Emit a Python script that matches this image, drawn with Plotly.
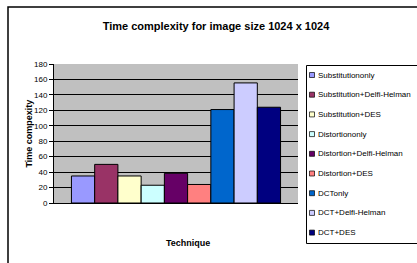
import plotly.graph_objects as go

techniques = ["Substitutiononly", "Substitution+Delfi-Helman", "Substitution+DES",
              "Distortiononly", "Distortion+Delfi-Helman", "Distortion+DES",
              "DCTonly", "DCT+Delfi-Helman", "DCT+DES"]
times = [35, 50, 35, 23, 38.5, 24, 121, 155.5, 124]
colors = ["#9999FF", "#993366", "#FFFFCC", "#CCFFFF", "#660066", "#FF8080",
          "#0066CC", "#CCCCFF", "#000080"]
category = ["Technique"]
y_ticks = list(range(0, 181, 20))

W, H = 417, 263
L, R, T, B = 54, 298, 64, 203
pw, ph = R - L, B - T

def px(x):
    return (x - L) / pw

def py(y):
    return (B - y) / ph

font = "Liberation Sans, Arial"

fig = go.Figure()
for name, v, c in zip(techniques, times, colors):
    fig.add_trace(go.Bar(x=category, y=[v], name=name, marker_color=c,
                         marker_line=dict(color="black", width=1),
                         showlegend=False))

fig.update_layout(
    width=W, height=H,
    margin=dict(l=L, r=W - R, t=T, b=H - B, autoexpand=False),
    paper_bgcolor="white", plot_bgcolor="#C0C0C0",
    barmode="group", bargap=0.143, bargroupgap=0,
    title=dict(text="<b>Time complexity for image size 1024 x 1024</b>",
               x=216 / W, xanchor="center", y=1 - 26 / H, yanchor="middle",
               font=dict(family=font, size=11, color="black")),
    showlegend=False,
    font=dict(family=font, color="black"),
)
fig.update_xaxes(showticklabels=False, showline=True, linecolor="black",
                 linewidth=1, showgrid=False, ticks="")
fig.update_yaxes(range=[0, 180], tickvals=y_ticks, ticks="outside", ticklen=4,
                 tickcolor="black", showline=True, linecolor="black", linewidth=1,
                 showgrid=True, gridcolor="black", gridwidth=1,
                 tickfont=dict(family=font, size=8, color="black"), zeroline=False)

fig.add_annotation(text="<b>Time compexity</b>", textangle=-90, xref="paper", yref="paper",
                   x=px(28), y=0.5, xanchor="center", yanchor="middle", showarrow=False,
                   font=dict(family=font, size=9, color="black"))
fig.add_annotation(text="<b>Technique</b>", xref="paper", yref="paper",
                   x=px(188), y=py(243), xanchor="center", yanchor="middle", showarrow=False,
                   font=dict(family=font, size=9, color="black"))

# chart outer border
fig.add_shape(type="rect", xref="paper", yref="paper",
              x0=px(8), y0=py(7), x1=px(440), y1=py(290),
              line=dict(color="black", width=1.5), fillcolor="rgba(0,0,0,0)", layer="above")

# legend box with entries built from the series names and colours
fig.add_shape(type="rect", xref="paper", yref="paper",
              x0=px(306.5), y0=py(65.5), x1=px(420), y1=py(243.5),
              line=dict(color="black", width=1), fillcolor="white", layer="above")
for i, (name, c) in enumerate(zip(techniques, colors)):
    yc = 75 + 19.7 * i
    fig.add_shape(type="rect", xref="paper", yref="paper",
                  x0=px(309.5), x1=px(314.5), y0=py(yc - 2.5), y1=py(yc + 2.5),
                  line=dict(color="black", width=0.7), fillcolor=c, layer="above")
    fig.add_annotation(text=name, xref="paper", yref="paper", x=px(316), y=py(yc),
                       xanchor="left", yanchor="middle", showarrow=False,
                       font=dict(family=font, size=8, color="black"))

fig.write_html("out.html", config={"displayModeBar": False},
               post_script="document.body.style.margin='0';")
